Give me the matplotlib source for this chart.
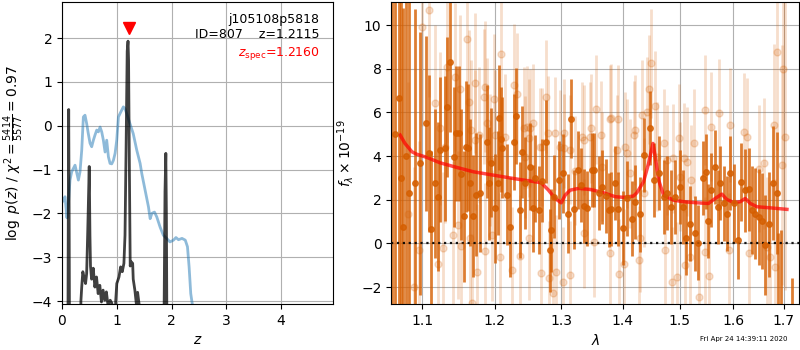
import numpy as np
import matplotlib
matplotlib.use('Agg')
import matplotlib.pyplot as plt
from matplotlib.ticker import NullLocator, NullFormatter

# --- redshift fit: log p(z) and scaled chi2 curve
pz_z = [0.0, 0.105, 0.115, 0.122, 0.13, 0.14, 0.33, 0.345, 0.36, 0.38, 0.41, 0.43, 0.45, 0.47,
        0.497, 0.51, 0.52, 0.54, 0.57, 0.60, 0.63, 0.66, 0.69, 0.72, 0.75, 0.78, 0.81, 0.84, 0.88,
        0.91, 0.93, 0.96, 0.98, 1.0, 1.04, 1.07, 1.1, 1.13, 1.15, 1.17, 1.19, 1.205, 1.215, 1.23,
        1.245, 1.26, 1.29, 1.30, 1.33, 1.36, 1.38, 1.41, 1.43, 1.84, 1.865, 1.88, 1.895, 1.905,
        1.92, 4.95]
pz_log = [-6, -6, -2, 0.37, -2, -6, -6, -4.0, -3.68, -3.33, -3.5, -3.6, -3.37, -2.4,
          -0.93, -2.5, -3.2, -3.5, -3.25, -3.68, -3.45, -3.83, -3.64, -4.02, -3.75, -3.98, -3.79, -4.1, -3.98,
          -4.05, -6, -6, -4.0, -3.6, -3.45, -3.22, -3.33, -3.14, -2.5, -0.5, 1.7, 1.93, 1.5, -1.0,
          -3.2, -3.1, -3.14, -3.5, -3.75, -4.1, -3.8, -4.1, -6, -6, -4.0, -1.5, -0.63, -2.0,
          -6, -6]

chi_z = [0.0, 0.024, 0.055, 0.09, 0.116, 0.146, 0.177, 0.238, 0.299, 0.329, 0.36, 0.39, 0.42, 0.45,
         0.48, 0.512, 0.542, 0.573, 0.603, 0.634, 0.664, 0.695, 0.725, 0.755, 0.786, 0.816, 0.847,
         0.877, 0.908, 0.938, 0.969, 0.999, 1.03, 1.06, 1.12, 1.15, 1.18, 1.24, 1.30, 1.365, 1.426,
         1.456, 1.517, 1.578, 1.609, 1.64, 1.688, 1.73, 1.79, 1.85, 1.91, 1.97, 2.035, 2.08, 2.126,
         2.19, 2.25, 2.29, 2.32, 2.35, 2.377, 2.42]
chi_val = [-1.75, -1.70, -1.62, -2.1, -1.8, -1.24, -1.05, -0.90, -1.24, -1.05, -0.56, 0.20, 0.24, 0.05,
           -0.18, -0.40, -0.48, -0.33, -0.21, -0.10, -0.14, -0.03, -0.14, -0.33, -0.60, -0.33, -0.71,
           -0.86, -0.87, -0.79, -0.63, -0.33, 0.20, 0.28, 0.43, 0.39, 0.28, 0.05, -0.18, -0.56, -0.86,
           -1.09, -1.47, -1.85, -2.12, -2.0, -1.97, -2.08, -2.31, -2.50, -2.57, -2.65, -2.61, -2.55, -2.6,
           -2.57, -2.61, -2.76, -3.22, -3.83, -4.06, -5.0]

z_best = 1.2115
z_spec = 1.2160

# --- spectrum, first orientation (dark points)
wave_a = [1.0605, 1.0640, 1.0687, 1.0720, 1.0751, 1.0785, 1.0825, 1.0895, 1.0961, 1.1045, 1.1080,
          1.1116, 1.1170, 1.1201,
          1.1237, 1.1305, 1.1328, 1.1373, 1.1419, 1.1456, 1.1488, 1.1521, 1.1571, 1.1590, 1.1618,
          1.1651, 1.1688, 1.1731, 1.1792, 1.1887, 1.1920, 1.1949, 1.1997, 1.2046, 1.2065, 1.2094,
          1.2113, 1.2177, 1.2216, 1.2275, 1.2310, 1.2364, 1.2399, 1.2449, 1.2514, 1.2564, 1.2600,
          1.2661, 1.2702, 1.2768, 1.2819, 1.2845, 1.2887, 1.2959, 1.3022, 1.3100, 1.3158, 1.3195,
          1.3259, 1.3313, 1.3366, 1.3409, 1.3490, 1.3528, 1.3599, 1.3654, 1.3714, 1.3770, 1.3808,
          1.3875, 1.3914, 1.3998, 1.4071, 1.4156, 1.4213, 1.4288, 1.4368, 1.4473, 1.4531, 1.4630,
          1.4707, 1.4766, 1.4838, 1.4915, 1.4993, 1.5054, 1.5114, 1.5175, 1.5279, 1.5328, 1.5415,
          1.5483, 1.5514, 1.5570, 1.5652, 1.5696, 1.5746, 1.5822, 1.5873, 1.5937, 1.6001, 1.6079,
          1.6143, 1.6215, 1.6293, 1.6359, 1.6425, 1.6491, 1.6557, 1.6624, 1.6691, 1.6778, 1.6859,
          1.6890, 1.6935, 1.7166]
flux_a = [12.0, 5.0, 6.64, 3.0, 0.76, 4.0, 2.33, 2.75, 3.66, 5.5, 4.12,
          0.64, 2.75, 2.14,
          4.3, 4.35, 6.23, 8.29, 3.97, 5.04, 5.04, 3.16, 1.25, 4.43, 4.39,
          2.79, 1.25, 2.24, 2.29, 4.66, 2.75, 3.69, 1.60, 2.77, 5.75, 4.77,
          4.39, 2.24, 0.76, 4.66, 5.83, 1.53, 4.2, 2.77, 3.51, 1.60, 2.98,
          1.53, 2.87, 4.66, -0.31, 0.61, 2.14, 2.9, 3.21, 1.37, 5.72, 1.56,
          3.36, 2.67, 1.72, 1.60, 3.36, 3.36, 2.3, 2.59, 2.18, 1.53, 1.56,
          2.77, 1.56, 0.72, 2.06, 1.14, 1.91, 1.33, 4.04, 5.27, 2.9, 3.21,
          2.14, 2.3, 1.68, 2.14, 2.57, 1.68, 0.27, 0.91, 0.46, 0.04, 2.98,
          3.29, 1.02, 2.44, 3.51, 1.68, 2.77, 1.83, 1.37, 3.21, 1.83, 0.15,
          2.82, 2.44, 2.47, 1.53, 1.37, 1.22, 1.02, -0.08, 0.88, 2.77, 2.3,
          -3.0, -3.2, -4.5]
err_a = [15.0, 12.0, 10.0, 10.0, 10.0, 9.0, 9.0, 8.0, 6.0, 4.0, 3.6,
         3.6, 3.4, 3.4,
         3.3, 3.3, 3.2, 3.2, 3.2, 3.1, 3.1, 3.0, 3.0, 3.0, 2.9,
         2.9, 2.8, 2.8, 2.7, 2.6, 2.6, 2.5, 2.5, 2.4, 2.4, 2.4,
         2.3, 2.3, 2.3, 2.2, 2.2, 2.2, 2.1, 2.1, 2.0, 2.0, 2.0,
         2.0, 1.9, 1.9, 1.9, 1.9, 1.9, 1.8, 1.8, 1.8, 1.8, 1.8,
         1.8, 1.7, 1.7, 1.7, 1.7, 1.7, 1.7, 1.7, 1.7, 1.7, 1.7,
         1.7, 1.7, 1.7, 1.7, 1.7, 1.7, 1.7, 1.7, 1.7, 1.7, 1.7,
         1.7, 1.7, 1.7, 1.7, 1.7, 1.7, 1.7, 1.7, 1.7, 1.7, 1.7,
         1.7, 1.7, 1.7, 1.7, 1.7, 1.7, 1.7, 1.7, 1.7, 1.8, 1.8,
         1.8, 1.9, 1.9, 2.0, 2.1, 2.2, 2.2, 2.3, 2.4, 2.6, 2.8,
         3.5, 3.8, 2.9]

# --- spectrum, second orientation (light points)
wave_b = [1.0805, 1.0882, 1.0948, 1.0992, 1.1089, 1.1161, 1.1206, 1.1237, 1.1273, 1.1305, 1.1328,
          1.1410, 1.1442, 1.1479, 1.1511, 1.1521, 1.1604, 1.1627, 1.1651, 1.1662, 1.1683, 1.1712,
          1.1724, 1.1745, 1.1782, 1.1839, 1.1854, 1.1863, 1.1887, 1.1935, 1.1959, 1.1983, 1.2007,
          1.2079, 1.2094, 1.2152, 1.2250, 1.2275, 1.2325, 1.2364, 1.2424, 1.2440, 1.2474, 1.2499,
          1.2509, 1.2524, 1.2574, 1.2677, 1.2686, 1.2702, 1.2768, 1.2788, 1.2804, 1.2866, 1.2907,
          1.2918, 1.2984, 1.3022, 1.3037, 1.3050, 1.3132, 1.3143, 1.3222, 1.3329, 1.3355, 1.3368,
          1.3463, 1.3474, 1.3517, 1.3556, 1.3637, 1.3654, 1.3780, 1.3791, 1.3800, 1.3903, 1.3925,
          1.3931, 1.4015, 1.4043, 1.4071, 1.4128, 1.4185, 1.4202, 1.4271, 1.4299, 1.4328, 1.4357,
          1.4415, 1.4455, 1.4490, 1.4560, 1.4589, 1.4707, 1.4725, 1.4766, 1.4855, 1.4870, 1.4945,
          1.4975, 1.5005, 1.5066, 1.5096, 1.5126, 1.5187, 1.5200, 1.5248, 1.5340, 1.5452, 1.5464,
          1.5526, 1.5570, 1.5714, 1.5905, 1.5937, 1.6195, 1.6260, 1.6293, 1.6491, 1.6590, 1.6657,
          1.6724, 1.6791, 1.6825, 1.6859, 1.6961, 1.6981, 1.7029]
flux_b = [1.37, -1.99, -0.31, 9.89, 10.69, 6.41, -0.96, 5.27, -0.23, 4.43, 8.09,
          0.38, 7.63, 0.84, 7.05, -0.12, 9.34, 6.49, 0.23, 5.20, -2.75, 7.36,
          4.74, -1.30, 4.97, 6.72, -0.34, 7.18, 5.50, 3.82, 0.38, 6.61, 4.96,
          -0.61, 8.67, 4.88, -1.22, 7.25, 6.84, -0.58, 5.27, 3.97, 5.34, 0.23,
          4.84, 5.27, 5.52, 4.43, -1.35, 4.43, 6.72, 5.07, -1.57, -2.29, 5.04,
          -1.30, 4.43, -1.76, 5.04, 4.35, -1.45, 4.30, 3.33, 4.88, 0.46, 4.74,
          4.88, 5.27, 0.07, 6.15, 4.96, 3.51, 5.69, -0.46, 5.73, 4.28, 5.68,
          -1.38, -0.92, 4.43, 4.12, 3.21, 4.96, 5.19, -0.77, 0.27, 5.88, 2.32,
          6.03, 7.05, 8.24, 6.31, 3.97, 4.58, -0.31, 3.82, -1.76, 3.89, -1.53,
          4.81, 3.05, 3.92, -0.99, 3.74, -0.61, 2.90, 4.58, -2.44, -0.38, 6.11,
          -1.50, 5.34, 5.95, -0.31, 5.42, 5.11, 4.88, -0.46, 3.43, 3.66, -0.15,
          -0.61, 5.42, -1.07, 8.78, 3.59, 7.97, 4.88]
err_b = [6.0, 5.5, 5.0, 4.5, 4.0, 3.6, 3.6, 3.5, 3.5, 3.5, 3.5,
         3.4, 3.4, 3.4, 3.4, 3.3, 3.3, 3.3, 3.2, 3.2, 3.2, 3.2,
         3.2, 3.1, 3.1, 3.1, 3.1, 3.0, 3.0, 3.0, 3.0, 3.0, 3.0,
         2.9, 2.9, 2.9, 2.9, 2.8, 2.8, 2.8, 2.8, 2.8, 2.8, 2.8,
         2.7, 2.7, 2.7, 2.7, 2.7, 2.7, 2.6, 2.6, 2.6, 2.6, 2.6,
         2.6, 2.6, 2.5, 2.5, 2.5, 2.5, 2.5, 2.5, 2.5, 2.5, 2.5,
         2.5, 2.5, 2.5, 2.5, 2.5, 2.5, 2.5, 2.5, 2.5, 2.5, 2.5,
         2.5, 2.5, 2.5, 2.5, 2.5, 2.5, 2.5, 2.5, 2.5, 2.5, 2.5,
         2.5, 2.5, 2.5, 2.5, 2.5, 2.5, 2.5, 2.5, 2.5, 2.5, 2.5,
         2.5, 2.5, 2.5, 2.5, 2.5, 2.5, 2.5, 2.5, 2.5, 2.5, 2.5,
         2.5, 2.5, 2.5, 2.6, 2.6, 2.7, 2.7, 2.8, 2.9, 3.0, 3.2,
         3.4, 3.7, 4.0, 4.5, 5.5, 6.0, 7.0]

# --- best-fit template
model_wave = [1.0708, 1.077, 1.086, 1.092, 1.1057, 1.1237, 1.1464, 1.1697, 1.2031, 1.2321, 1.2692,
              1.2803, 1.2906, 1.300, 1.3063, 1.3143, 1.3276, 1.3468, 1.3682, 1.3875, 1.4016, 1.4184,
              1.4241, 1.4356, 1.4444, 1.452, 1.4561, 1.462, 1.4707, 1.4885, 1.5066, 1.5310, 1.5525,
              1.5652, 1.5777, 1.5873, 1.6001, 1.6131, 1.6228, 1.6327, 1.6459, 1.6724, 1.7064]
model_flux = [4.96, 4.58, 4.20, 4.09, 3.94, 3.69, 3.48, 3.28, 3.10, 2.95, 2.78,
              2.44, 2.06, 1.86, 2.21, 2.44, 2.52, 2.47, 2.32, 2.14, 2.11, 2.17,
              2.32, 2.82, 3.66, 4.58, 3.97, 2.90, 2.21, 1.98, 1.91, 1.86, 1.83,
              2.06, 2.26, 2.01, 1.88, 1.91, 2.06, 1.83, 1.68, 1.63, 1.56]

wave_ticks = [1.1, 1.2, 1.3, 1.4, 1.5, 1.6, 1.7]
grism_color = (0.835, 0.369, 0.0)

fig = plt.figure(figsize=(8, 3.5), dpi=100)

# left panel
ax = fig.add_axes([0.0775, 0.131, 0.339, 0.863])
ax.plot(chi_z, chi_val, color='C0', alpha=0.5, lw=2)
ax.plot(pz_z, pz_log, color='k', alpha=0.75, lw=2)
ax.plot([z_spec], [2.23], marker='v', color='red', ms=8, linestyle='none')
ax.set_xlim(0, 4.95)
ax.set_ylim(-4.07, 2.82)
ax.set_xticks([0, 1, 2, 3, 4])
ax.set_yticks([-4, -3, -2, -1, 0, 1, 2])
ax.grid()
ax.set_xlabel('$z$')
ax.set_ylabel(r'$\log\ p(z)$ / $\chi^2=\frac{5414}{5577}=0.97$')
ax.text(0.95, 0.965, 'j105108p5818\nID=807    z={0:.4f}'.format(z_best),
        ha='right', va='top', transform=ax.transAxes, fontsize=9)
ax.text(0.95, 0.83, r'$z_\mathrm{spec}$' + '={0:.4f}'.format(z_spec),
        ha='right', va='center', transform=ax.transAxes, fontsize=9, color='r')

# right panel
axs = fig.add_axes([0.489, 0.131, 0.510, 0.863])
axs.errorbar(wave_b, flux_b, yerr=err_b, color=grism_color, alpha=0.2,
             marker='o', ms=5, linestyle='none', elinewidth=2)
axs.errorbar(wave_a, flux_a, yerr=err_a, color=grism_color, alpha=0.8,
             marker='o', ms=4, linestyle='none', elinewidth=2)
axs.plot(model_wave, model_flux, color='r', alpha=0.7, lw=2.5)
axs.axhline(0, color='k', linestyle=':', lw=1.6, alpha=0.9)
axs.set_xscale('log')
axs.set_xlim(1.0593, 1.7318)
axs.set_ylim(-2.78, 11.05)
axs.set_xticks(wave_ticks)
axs.set_xticklabels(['{0:.1f}'.format(w) for w in wave_ticks])
axs.xaxis.set_minor_locator(NullLocator())
axs.xaxis.set_minor_formatter(NullFormatter())
axs.set_yticks([-2, 0, 2, 4, 6, 8, 10])
axs.grid()
axs.set_xlabel(r'$\lambda$')
axs.set_ylabel(r'$f_\lambda\times10^{-19}$')

fig.text(0.984, 0.031, 'Fri Apr 24 14:39:11 2020', ha='right', va='center', fontsize=5)

fig.savefig('out.png', dpi=100)
